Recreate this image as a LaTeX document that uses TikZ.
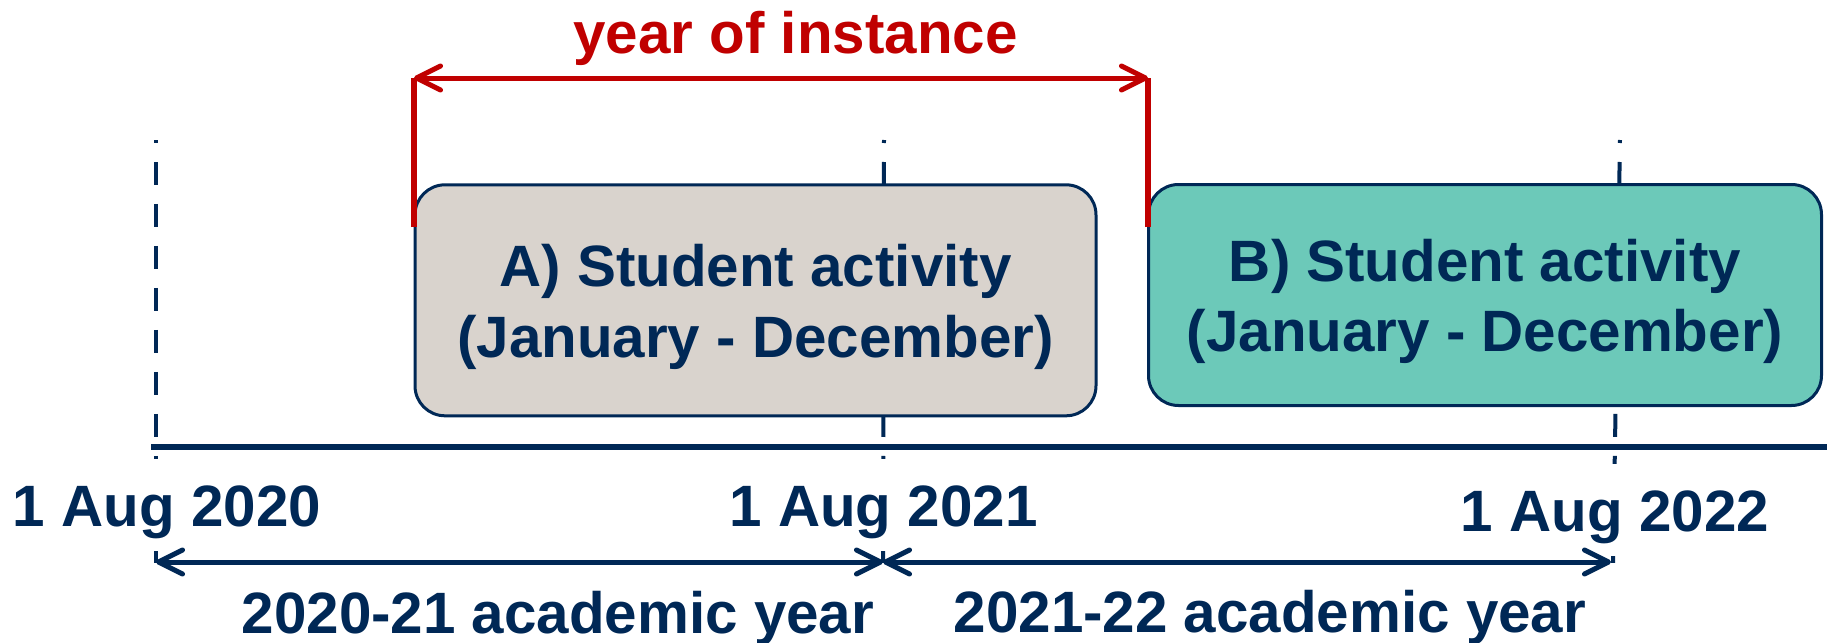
\documentclass[tikz,border=0pt]{standalone}
\usepackage{fontspec}
\setmainfont{Liberation Sans}
\usepackage{tikz}
\usetikzlibrary{arrows.meta}
\definecolor{navy}{HTML}{002856}
\definecolor{instred}{HTML}{C00000}
\definecolor{boxgrey}{HTML}{D9D3CD}
\definecolor{boxteal}{HTML}{6CC9B9}
\newcommand{\bigbf}{\fontsize{16.6}{20}\selectfont\bfseries}
\tikzset{%
	block/.style    = {draw=navy, line width=0.3mm, rounded corners=3mm,
		align=center, text=navy, font=\bigbf, text height=12.6mm},
	datelabel/.style = {fill=white, text=navy, font=\bigbf, anchor=base,
		inner xsep=1mm, inner ysep=1.3mm, text height=5.4mm, text depth=1.2mm},
	yearlabel/.style = {text=navy, font=\bigbf, anchor=base, inner sep=0pt},
	marker/.style   = {draw=navy, line width=0.4mm,
		dash pattern=on 2.3mm off 1.9mm, dash phase=2mm}
}

\begin{document}
\begin{tikzpicture}[x=0.1mm, y=-0.1mm,
	barb/.tip = {Straight Barb[length=2.4mm, width=2.4mm, round]}]
	\useasboundingbox (0,0) rectangle (1827,643);
	
	% dashed year markers
	\coordinate (t0) at (156,140);
	\coordinate (b0) at (156,565);
	\coordinate (t1) at (884,140);
	\coordinate (b1) at (883,565);
	\coordinate (t2) at (1620,140);
	\coordinate (b2) at (1613,565);
	\draw[marker] (t0) -- (b0);
	\draw[marker] (t1) -- (b1);
	\draw[marker] (t2) -- (b2);
	
	% time axis
	\coordinate (axisL) at (151,447);
	\coordinate (axisR) at (1827,447);
	\draw[navy, line width=0.6mm] (axisL) -- (axisR);
	
	\node[block, fill=boxgrey, minimum width=68.1mm, minimum height=23.1mm] (actA) at (755.5,300.3)
		{A) Student activity\\(January - December)};
	\node[block, fill=boxteal, minimum width=67.3mm, minimum height=22.1mm] (actB) at (1485,295)
		{B) Student activity\\(January - December)};
	
	\node[datelabel] (d2020) at (167,526) {1 Aug 2020};
	\node[datelabel] (d2021) at (883.5,526) {1 Aug 2021};
	\node[datelabel] (d2022) at (1615,531) {1 Aug 2022};
	
	% academic years
	\coordinate (a0) at (156,562);
	\coordinate (a1) at (883,562);
	\coordinate (a2) at (1611,562);
	\draw[navy, line width=0.5mm, {barb}-{barb}] (a0) -- (a1);
	\draw[navy, line width=0.5mm, {barb}-{barb}] (a1) -- (a2);
	\node[yearlabel] (ay1) at (558,633) {2020-21 academic year};
	\node[yearlabel] (ay2) at (1270,632) {2021-22 academic year};
	
	% year of instance
	\coordinate (instL) at (414,78);
	\coordinate (instR) at (1148,78);
	\coordinate (footL) at (414,227);
	\coordinate (footR) at (1148,227);
	\draw[instred, line width=0.55mm] (footL) -- (instL);
	\draw[instred, line width=0.55mm] (footR) -- (instR);
	\draw[instred, line width=0.5mm, {barb}-{barb}] (instL) -- (instR);
	\node[yearlabel, text=instred] (inst) at (795.5,53) {year of instance};
	
\end{tikzpicture}
\end{document}
